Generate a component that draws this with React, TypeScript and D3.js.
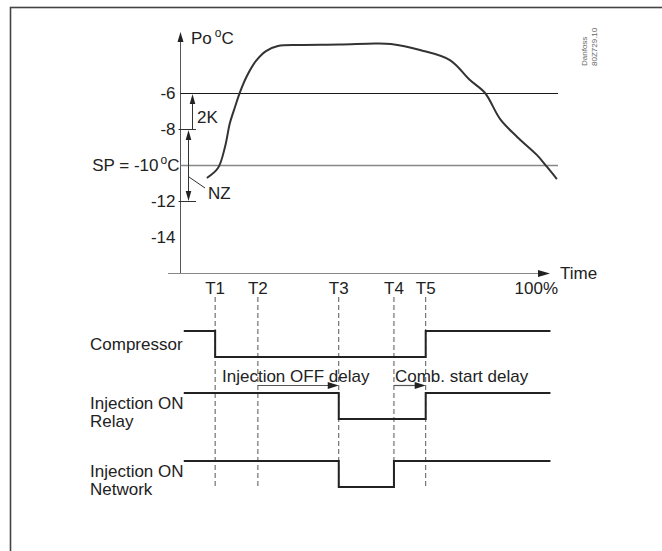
import React from "react";
import * as d3 from "d3";

const W = 662;
const H = 551;

// temperature axis ticks
const tempTicks = [-6, -8, -10, -12, -14];
const tempTickLabels = ["-6", "-8", "SP = -10", "-12", "-14"];
const fullLines = [-6, -10];
const shortTicks = [-8, -12];

// timing markers (percent of time axis)
const markerNames = ["T1", "T2", "T3", "T4", "T5"];
const markerTimes = [9.3, 20.6, 42, 56.6, 65];

// evaporating pressure curve (time %, °C)
const curveTime = [7.1, 10.05, 11.9, 13.2, 14.55, 15.9, 17.7, 20.1, 22.75, 25.9, 31.7, 42.3, 51.6, 55.8, 63.5, 71.4, 76.7, 80.7, 84.7, 89.2, 94.4, 97.1, 99.7];
const curveTemp = [-10.72, -10.17, -9.0, -7.67, -6.78, -5.94, -5.06, -4.22, -3.67, -3.39, -3.33, -3.31, -3.25, -3.28, -3.61, -4.17, -5.28, -6.0, -7.45, -8.44, -9.44, -10.11, -10.78];

// digital signals: [time, state]
const signalNames = ["Compressor", "Relay", "Network"];
const signalLabels = [["Compressor"], ["Injection ON", "Relay"], ["Injection ON", "Network"]];
const compressorSignal: [number, number][] = [[1, 1], [9.3, 0], [65, 1], [98, 1]];
const relaySignal: [number, number][] = [[1, 1], [42, 0], [65, 1], [98, 1]];
const networkSignal: [number, number][] = [[1, 1], [42, 0], [56.6, 1], [98, 1]];

const delayLabels = ["Injection OFF delay", "Comb. start delay"];
const delayFrom = [20.6, 56.6];
const delayTo = [42, 65];

const FONT = "'Liberation Sans', Arial, Helvetica, sans-serif";

export default function App() {
  const x = d3.scaleLinear().domain([0, 100]).range([180, 558]);
  const y = d3.scaleLinear().domain([-16, -6]).range([273, 93]);

  const rowY = d3.scaleOrdinal<string, number>().domain(signalNames).range([331, 393, 461]);
  const amp = 26;

  const curveLine = d3
    .line<number>()
    .x((_, i) => x(curveTime[i]))
    .y((_, i) => y(curveTemp[i]))
    .curve(d3.curveCatmullRom.alpha(0.5));

  const signals = [compressorSignal, relaySignal, networkSignal];

  const mkStep = (row: string) =>
    d3
      .line<[number, number]>()
      .x((d) => x(d[0]))
      .y((d) => rowY(row) + (1 - d[1]) * amp)
      .curve(d3.curveStepAfter);

  const axisX = x(0) + 0.5;
  const xAxisY = y(-16) + 0.5;

  const arrowV = (xx: number, tipY: number, dir: number, key: string) => (
    <path key={key} d={`M${xx},${tipY} L${xx - 2.8},${tipY + dir * 10} L${xx + 2.8},${tipY + dir * 10} Z`} fill="#222" />
  );

  return (
    <svg width={W} height={H} style={{ position: "absolute", left: 0, top: 0 }} fontFamily={FONT}>
      <rect x={0} y={0} width={W} height={H} fill="#fff" />
      {/* frame */}
      <rect x={10.5} y={7.5} width={800} height={700} fill="none" stroke="#444" strokeWidth={1.6} />

      {/* y axis */}
      <line x1={axisX} x2={axisX} y1={xAxisY} y2={38} stroke="#555" strokeWidth={1} />
      <path d={`M${axisX},${32} L${axisX - 3},${42} L${axisX + 3},${42} Z`} fill="#222" />
      <text x={191} y={44} fontSize={17} fill="#222">
        Po
        <tspan fontSize={12} dx={3} dy={-7}>o</tspan>
        <tspan dy={7}>C</tspan>
      </text>

      {/* x axis */}
      <line x1={168} x2={541} y1={xAxisY} y2={xAxisY} stroke="#888" strokeWidth={1.2} />
      <path d={`M${550},${xAxisY} L${538},${xAxisY - 3.5} L${538},${xAxisY + 3.5} Z`} fill="#222" />
      <text x={560} y={xAxisY} dy="0.35em" fontSize={17} fill="#222">Time</text>

      {/* horizontal reference lines */}
      {fullLines.map((v) => (
        <line key={v} x1={axisX} x2={x(100)} y1={y(v) + 0.5} y2={y(v) + 0.5} stroke={v === -10 ? "#888" : "#1a1a1a"} strokeWidth={v === -10 ? 1.6 : 1.1} />
      ))}
      {shortTicks.map((v) => (
        <line key={v} x1={axisX - 2} x2={196} y1={y(v) + 0.5} y2={y(v) + 0.5} stroke="#333" strokeWidth={1} />
      ))}

      {/* tick labels */}
      {tempTicks.map((v, i) =>
        v === -10 ? (
          <text key={v} x={axisX - 1} y={y(v)} dy="0.35em" fontSize={17} textAnchor="end" fill="#222">
            {tempTickLabels[i]}
            <tspan fontSize={12} dx={2} dy={-7}>o</tspan>
            <tspan dy={7}>C</tspan>
          </text>
        ) : (
          <text key={v} x={axisX - 5} y={y(v)} dy="0.35em" fontSize={17} textAnchor="end" fill="#222">
            {tempTickLabels[i]}
          </text>
        )
      )}

      {/* 2K arrow */}
      <line x1={192.5} x2={192.5} y1={y(-8)} y2={y(-6) + 8} stroke="#333" strokeWidth={1} />
      {arrowV(192.5, y(-6) + 1, 1, "a2k")}
      <text x={197} y={y(-7.35)} dy="0.35em" fontSize={17} fill="#222">2K</text>

      {/* NZ arrow */}
      <line x1={188.5} x2={188.5} y1={y(-8) + 8} y2={y(-12) - 8} stroke="#333" strokeWidth={1} />
      {arrowV(188.5, y(-8) + 1, 1, "anz1")}
      {arrowV(188.5, y(-12), -1, "anz2")}
      <line x1={189} y1={177} x2={205} y2={188} stroke="#333" strokeWidth={1} />
      <text x={208} y={193} dy="0.35em" fontSize={17} fill="#222">NZ</text>

      {/* pressure curve */}
      <path d={curveLine(curveTime) || ""} fill="none" stroke="#333" strokeWidth={2} />

      {/* Danfoss code */}
      <text transform="translate(587,66) rotate(-90)" fontSize={8} fill="#666">Danfoss</text>
      <text transform="translate(597,66) rotate(-90)" fontSize={8} fill="#666">80Z729.10</text>

      {/* markers */}
      {markerTimes.map((t, i) => (
        <g key={markerNames[i]}>
          <text x={x(t)} y={288} dy="0.35em" fontSize={17} textAnchor="middle" fill="#222">
            {markerNames[i]}
          </text>
          <line x1={x(t)} x2={x(t)} y1={297} y2={487} stroke="#555" strokeWidth={1} strokeDasharray="5,3" />
        </g>
      ))}
      <text x={x(100)} y={288} dy="0.35em" fontSize={17} textAnchor="end" fill="#222">100%</text>

      {/* signals */}
      {signalNames.map((name, i) => (
        <g key={name}>
          <path d={mkStep(name)(signals[i]) || ""} fill="none" stroke="#222" strokeWidth={2} />
          {signalLabels[i].map((lab, j) => (
            <text
              key={j}
              x={90}
              y={rowY(name) + (signalLabels[i].length === 1 ? 13 : 10 + j * 18.5)}
              dy="0.35em"
              fontSize={17}
              fill="#222"
            >
              {lab}
            </text>
          ))}
        </g>
      ))}

      {/* delay annotations */}
      {delayLabels.map((lab, i) => (
        <g key={lab}>
          <line x1={x(delayFrom[i])} x2={x(delayTo[i]) - 8} y1={385.5} y2={385.5} stroke="#555" strokeWidth={1.2} />
          <path d={`M${x(delayTo[i])},385.5 L${x(delayTo[i]) - 11},382 L${x(delayTo[i]) - 11},389 Z`} fill="#222" />
          <text x={i === 0 ? 222 : x(delayFrom[i]) + 1} y={376} dy="0.35em" fontSize={17} fill="#222">
            {lab}
          </text>
        </g>
      ))}
    </svg>
  );
}
